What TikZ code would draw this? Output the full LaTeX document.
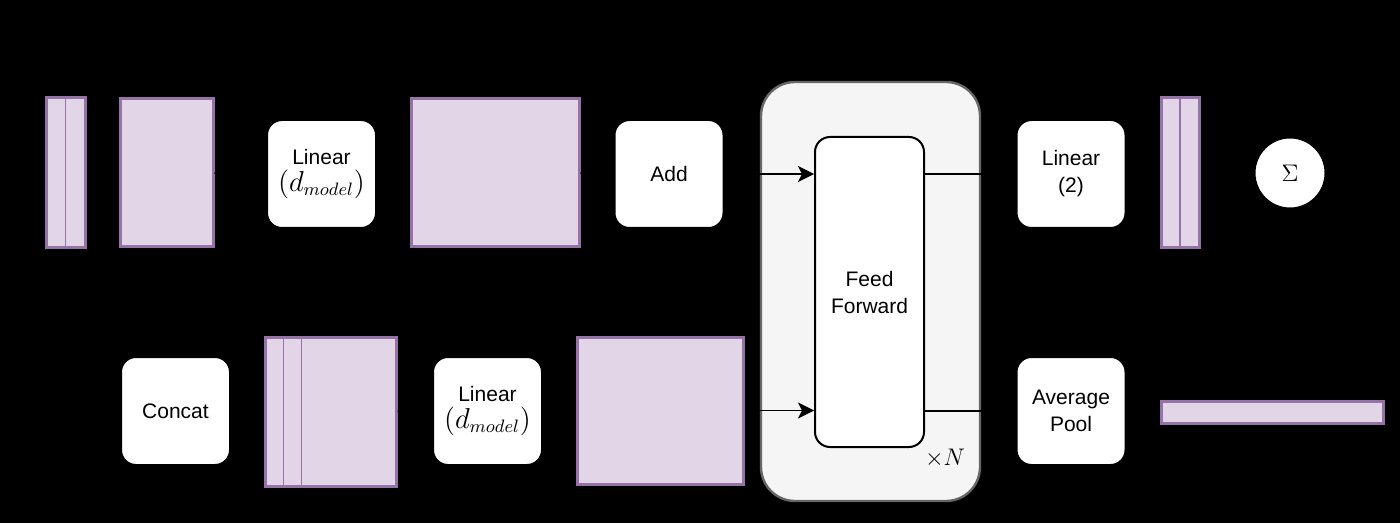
\documentclass[tikz,border=0pt]{standalone}
\usepackage{fontspec}
\setmainfont{Liberation Sans}
\usepackage{amsmath}
\usepackage{xcolor}
\usetikzlibrary{arrows.meta}
\definecolor{tensorfill}{HTML}{E1D5E7}
\definecolor{tensordraw}{HTML}{9673A6}
\definecolor{blockfill}{HTML}{F5F5F5}
\definecolor{blockdraw}{HTML}{666666}
\newcommand{\dmodel}{{\fontsize{13.5}{15}\selectfont$(d_{model})$}}
\tikzset{
	layer/.style={draw=black, fill=white, line width=1pt, rounded corners=7.5pt,
		minimum width=54.5pt, minimum height=54pt, inner sep=0pt, align=center,
		font=\fontsize{10.5}{13.5}\selectfont},
	tensor/.style={draw=tensordraw, fill=tensorfill, line width=1.5pt, inner sep=0pt},
	split/.style={draw=tensordraw, line width=0.9pt},
	flow/.style={black, line width=0.9pt, -{Stealth[length=8pt, width=8pt, inset=2pt]}},
}

\begin{document}
\begin{tikzpicture}[x=0.5pt, y=-0.5pt]
	%background
	\fill[black] (0,0) rectangle (1400,523);
	%
	%repeated block
	\node[draw=blockdraw, fill=blockfill, line width=1.2pt, rounded corners=17pt,
		minimum width=109.5pt, minimum height=209.5pt] (block) at (870.5,291.5) {};
	\node[layer, minimum height=155pt] (ff) at (869.5,292) {Feed\\Forward};
	\node (times) at (945,458) {\fontsize{12.5}{14}\selectfont$\times N$};
	%
	%top row
	\node[tensor, minimum width=19.5pt, minimum height=75pt] (in1) at (65.5,173) {};
	\draw[split] (in1.north) -- (in1.south);
	\node[tensor, minimum width=46.5pt, minimum height=74pt] (emb1) at (166.5,173) {};
	\node[layer] (lin1) at (321.5,174) {Linear\\\dmodel};
	\node[tensor, minimum width=84pt, minimum height=74pt] (out1) at (495,173) {};
	\node[layer] (add) at (669,174) {Add};
	\node[layer] (lin2) at (1071,174) {Linear\\(2)};
	\node[tensor, minimum width=19pt, minimum height=75pt] (logits) at (1180,173) {};
	\draw[split] (logits.north) -- (logits.south);
	\node[circle, draw=black, fill=white, line width=1pt, minimum size=35.5pt, inner sep=0pt]
		(sum) at (1290,173) {\fontsize{12.5}{14}\selectfont$\Sigma$};
	%
	%bottom row
	\node[layer] (concat) at (175.5,411) {Concat};
	\node[tensor, minimum width=65.5pt, minimum height=74.5pt] (cat) at (330.5,411.5) {};
	\draw[split] ([xshift=10pt]cat.north west) -- ([xshift=10pt]cat.south west);
	\draw[split] ([xshift=19pt]cat.north west) -- ([xshift=19pt]cat.south west);
	\node[layer] (lin3) at (487.5,411) {Linear\\\dmodel};
	\node[tensor, minimum width=83pt, minimum height=73.5pt] (out2) at (660,410.5) {};
	\node[layer] (pool) at (1071,411) {Average\\Pool};
	\node[tensor, minimum width=111pt, minimum height=11pt] (vec) at (1272,412) {};
	%
	%connectors
	\draw[flow] (in1.south) |- (concat.west);
	\draw[flow] (emb1.south) -- (emb1.south |- concat.north);
	\draw[flow] (emb1.east) -- (lin1.west);
	\draw[flow] (lin1.east) -- (out1.west);
	\draw[flow] (out1.east) -- (add.west);
	\draw[flow] (add.east) -- (add.east -| ff.west);
	\draw[flow] (concat.east) -- (cat.west);
	\draw[flow] (cat.east) -- (lin3.west);
	\draw[flow] (lin3.east) -- (out2.west);
	\draw[flow] (out2.east) -- (out2.east -| ff.west);
	\draw[flow] (ff.east |- lin2.west) -- (lin2.west);
	\draw[flow] (ff.east |- pool.west) -- (pool.west);
	\draw[flow] (lin2.east) -- (logits.west);
	\draw[flow] (logits.east) -- (sum.west);
	\draw[flow] (pool.east) -- (vec.west);
\end{tikzpicture}
\end{document}
